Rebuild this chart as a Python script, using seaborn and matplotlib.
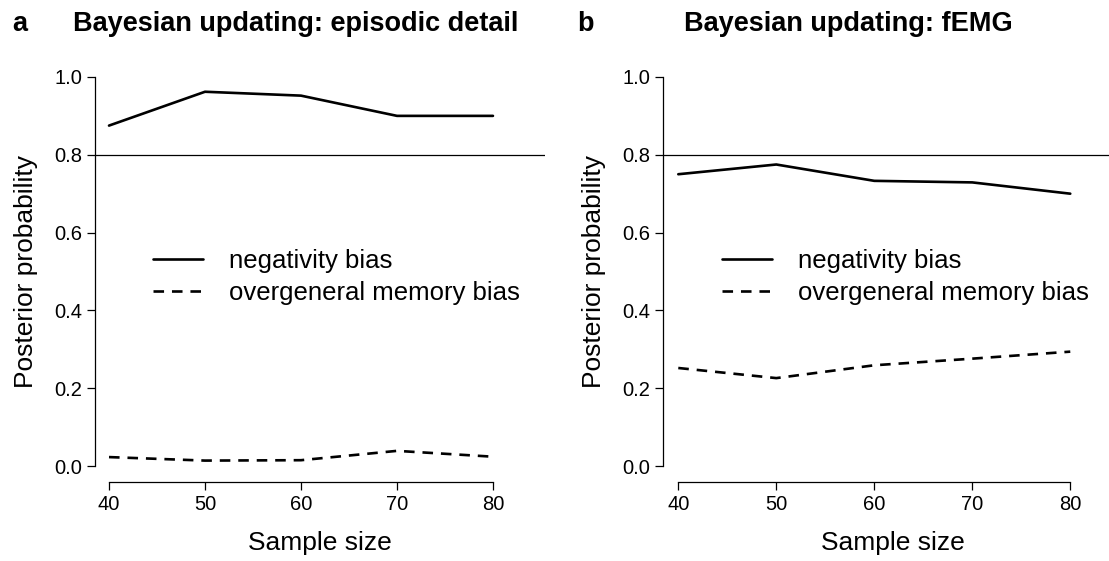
import numpy as np
import pandas as pd
import matplotlib
matplotlib.use("Agg")
import matplotlib.pyplot as plt
from matplotlib.lines import Line2D
import seaborn as sns

# Posterior probabilities of each hypothesis as the sample grows
sample_sizes = [40, 50, 60, 70, 80]
episodic_negativity = [0.875, 0.962, 0.952, 0.900, 0.900]
episodic_overgeneral = [0.023, 0.014, 0.015, 0.039, 0.024]
femg_negativity = [0.750, 0.775, 0.733, 0.729, 0.700]
femg_overgeneral = [0.252, 0.226, 0.259, 0.276, 0.294]

series_names = ["negativity bias", "overgeneral memory bias"]
panel_titles = ["Bayesian updating: episodic detail", "Bayesian updating: fEMG"]
panel_letters = ["a", "b"]
threshold = 0.8

sns.set_theme(style="ticks")
plt.rcParams["font.family"] = ["Liberation Sans", "DejaVu Sans"]
plt.rcParams["text.color"] = "black"

W, H = 1109, 561
fig = plt.figure(figsize=(W / 100, H / 100), dpi=100)


def axes_px(left, top, right, bottom):
    return fig.add_axes([left / W, 1 - bottom / H, (right - left) / W, (bottom - top) / H])


def long_frame(neg, ovg):
    return pd.DataFrame({
        "Sample size": sample_sizes * 2,
        "Posterior probability": neg + ovg,
        "hypothesis": [series_names[0]] * len(neg) + [series_names[1]] * len(ovg),
    })


ax_a = axes_px(95, 61.4, 545, 481.6)
ax_b = axes_px(663, 61.4, 663 + 459.7, 481.6)

panels = [
    (ax_a, long_frame(episodic_negativity, episodic_overgeneral), (38.54, 85.42)),
    (ax_b, long_frame(femg_negativity, femg_overgeneral), (38.44, 85.35)),
]

dash_styles = {series_names[0]: "", series_names[1]: (4, 3)}

for ax, df, xlim in panels:
    sns.lineplot(data=df, x="Sample size", y="Posterior probability",
                 style="hypothesis", dashes=dash_styles, color="black",
                 linewidth=1.9, legend=False, ax=ax)
    ax.axhline(threshold, color="black", linewidth=0.9)
    ax.set_xlim(*xlim)
    ax.set_ylim(-0.04, 1.04)
    ax.set_xticks(sample_sizes)
    ax.set_yticks([0.0, 0.2, 0.4, 0.6, 0.8, 1.0])
    ax.set_yticklabels(["0.0", "0.2", "0.4", "0.6", "0.8", "1.0"])
    ax.spines["top"].set_visible(False)
    ax.spines["right"].set_visible(False)
    ax.spines["left"].set_bounds(0, 1)
    ax.spines["bottom"].set_bounds(40, 80)
    for s in ("left", "bottom"):
        ax.spines[s].set_linewidth(0.9)
        ax.spines[s].set_color("black")
    ax.tick_params(axis="both", direction="out", length=6, width=0.9,
                   color="black", labelsize=14.5, labelcolor="black")
    ax.tick_params(axis="y", pad=3)
    ax.tick_params(axis="x", pad=4)
    ax.set_xlabel("Sample size", fontsize=19, labelpad=12, color="black")
    ax.set_ylabel("Posterior probability", fontsize=19, labelpad=12, color="black")
    ax.patch.set_alpha(0)

    handles = [
        Line2D([], [], color="black", linewidth=1.9, linestyle="-"),
        Line2D([], [], color="black", linewidth=1.9, dashes=(4, 3)),
    ]
    ax.legend(handles, series_names, loc="center left",
              bbox_to_anchor=((153 - 95) / 450, (481.6 - 277) / 420.2),
              frameon=False, fontsize=18.5, handlelength=1.95,
              handletextpad=1.0, labelspacing=0.3, borderpad=0,
              borderaxespad=0, labelcolor="black")

# panel titles and letters
title_centres = [296, 848]
letter_x = [12, 577]
for letter, title, cx, lx in zip(panel_letters, panel_titles, title_centres, letter_x):
    fig.text(cx / W, 1 - 31 / H, title, ha="center", va="baseline",
             fontsize=19.5, fontweight="bold", color="black")
    fig.text(lx / W, 1 - 31 / H, letter, ha="left", va="baseline",
             fontsize=19.5, fontweight="bold", color="black")

fig.savefig("out.png", dpi=100)
